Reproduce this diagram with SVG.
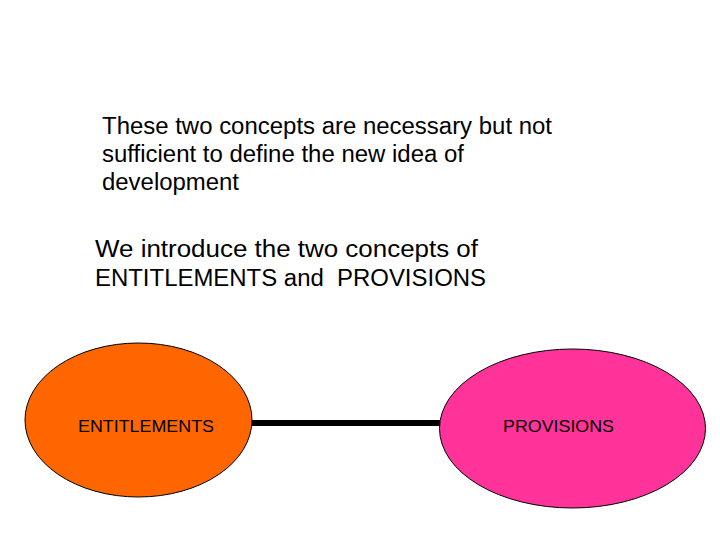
<svg xmlns="http://www.w3.org/2000/svg" width="720" height="540" viewBox="0 0 720 540">
<style>
.t{font-family:"Liberation Sans",Arial,sans-serif;font-size:23px;fill:#000}
.u{font-family:"Liberation Sans",Arial,sans-serif;font-size:23.5px;fill:#000}
.n{font-family:"Liberation Sans",Arial,sans-serif;font-size:17px;fill:#000}
</style>
<rect width="720" height="540" fill="#fff"/>
<text class="t" x="102" y="134" textLength="450" lengthAdjust="spacingAndGlyphs">These two concepts are necessary but not</text>
<text class="t" x="102" y="162" textLength="362" lengthAdjust="spacingAndGlyphs">sufficient to define the new idea of</text>
<text class="t" x="102" y="190" textLength="137" lengthAdjust="spacingAndGlyphs">development</text>
<text class="u" x="95" y="257" textLength="383" lengthAdjust="spacingAndGlyphs">We introduce the two concepts of</text>
<text class="u" x="95" y="286" textLength="391" lengthAdjust="spacingAndGlyphs" xml:space="preserve">ENTITLEMENTS and  PROVISIONS</text>
<g id="connectors">
<line x1="252" y1="423" x2="440" y2="423" stroke="#000" stroke-width="6"/>
</g>
<g id="entitlements">
<ellipse cx="138.5" cy="420" rx="113.5" ry="77" fill="#ff6600" stroke="#000" stroke-width="1"/>
<text class="n" x="78" y="432" textLength="136" lengthAdjust="spacingAndGlyphs">ENTITLEMENTS</text>
</g>
<g id="provisions">
<ellipse cx="572.5" cy="428.5" rx="133" ry="79.5" fill="#ff3399" stroke="#000" stroke-width="1"/>
<text class="n" x="503" y="432" textLength="111" lengthAdjust="spacingAndGlyphs">PROVISIONS</text>
</g>
</svg>
